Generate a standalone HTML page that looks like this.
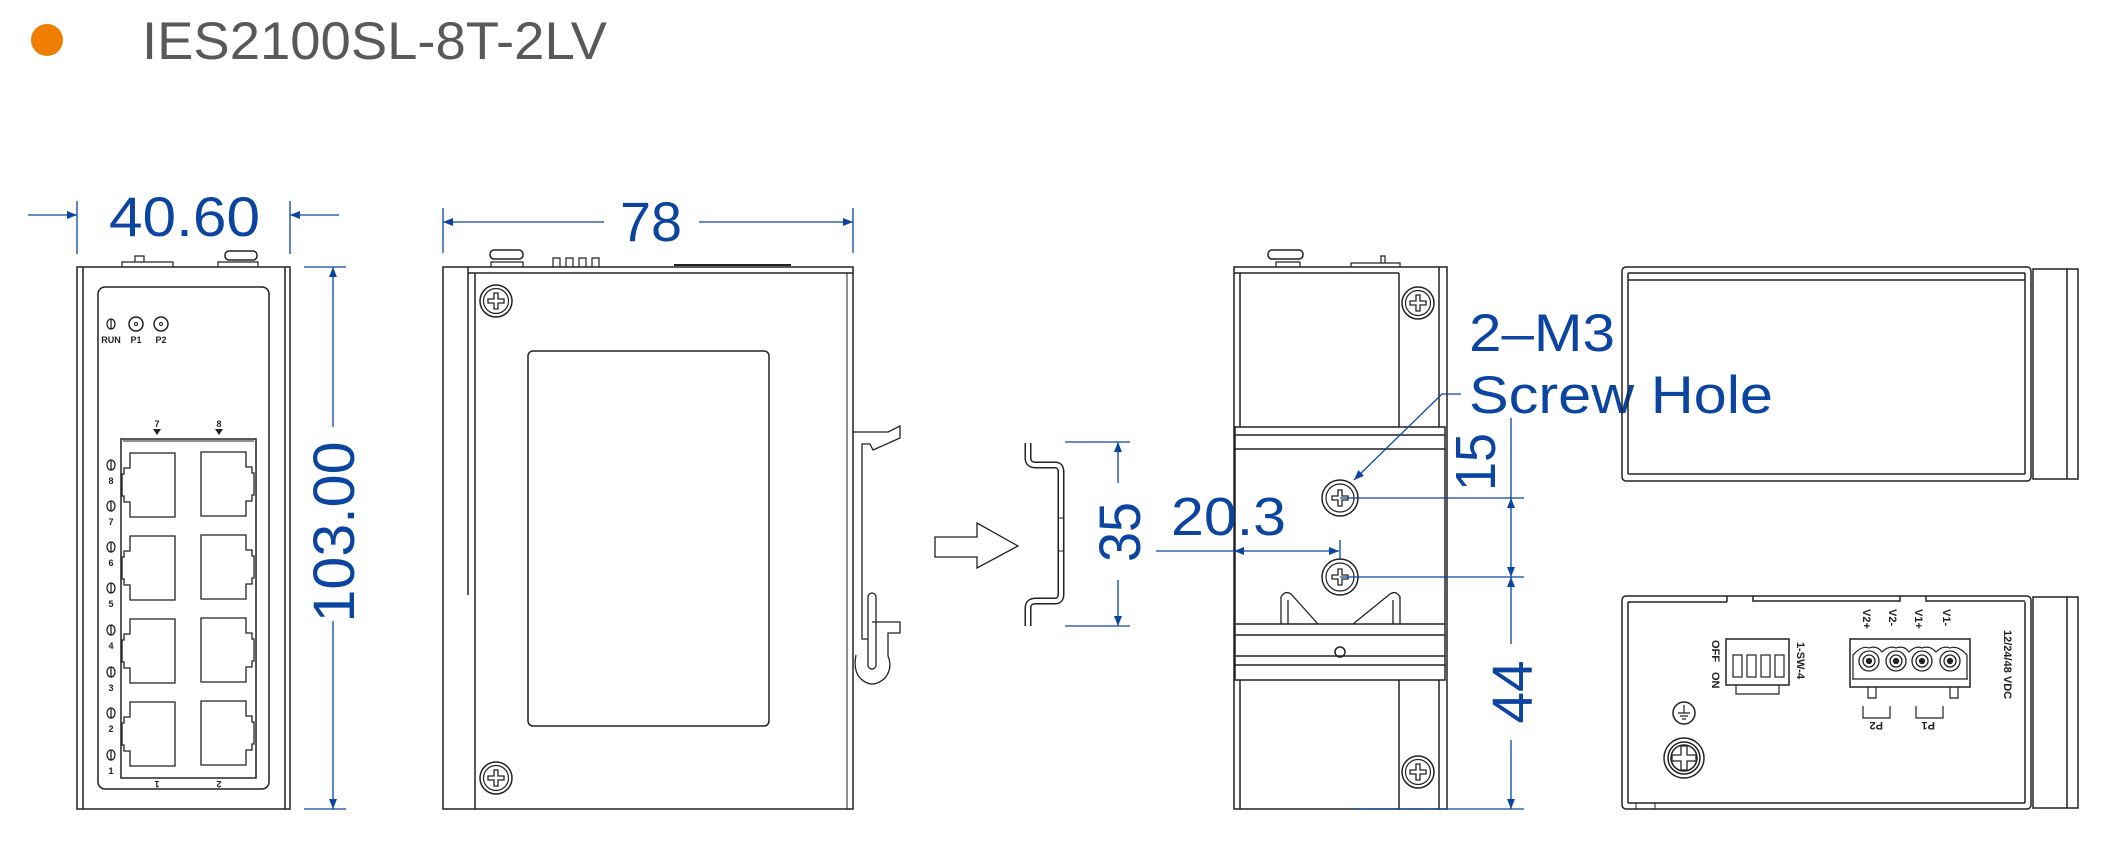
<!DOCTYPE html>
<html><head><meta charset="utf-8"><style>
html,body{margin:0;padding:0;background:#fff;}
svg{display:block;}
text{font-family:"Liberation Sans",sans-serif;}
.b{fill:#0b45a0;}
</style></head><body>
<svg width="2128" height="860" viewBox="0 0 2128 860" xmlns="http://www.w3.org/2000/svg">
<defs>
<marker id="ar" viewBox="0 0 10 10" refX="10" refY="5" markerWidth="14" markerHeight="10" markerUnits="userSpaceOnUse" orient="auto"><path d="M0,1 L10,5 L0,9 Z" fill="#0b45a0"/></marker>
<g id="scr"><circle r="16" fill="none" stroke="#222" stroke-width="1.5"/><circle r="12.5" fill="none" stroke="#222" stroke-width="1.2"/><path d="M-2,-8 H2 V-2 H8 V2 H2 V8 H-2 V2 H-8 V-2 H-2 Z" fill="none" stroke="#222" stroke-width="1.3"/></g>
<g id="hole"><circle r="18" fill="none" stroke="#222" stroke-width="1.5"/><circle r="14" fill="none" stroke="#222" stroke-width="1.2"/><path d="M-2,-8 H2 V-2 H8 V2 H2 V8 H-2 V2 H-8 V-2 H-2 Z" fill="none" stroke="#222" stroke-width="1.3"/></g>
<path id="pl" d="M8,0 H53 V64 H8 V49 H2 V43 H0 V21 H2 V15 H8 Z" fill="none" stroke="#222" stroke-width="1.3"/>
<path id="pr" d="M0,0 H45 V15 H51 V21 H53 V43 H51 V49 H45 V64 H0 Z" fill="none" stroke="#222" stroke-width="1.3"/>
<g id="led"><ellipse rx="4" ry="5" fill="none" stroke="#222" stroke-width="1.3"/><line x1="0" y1="-5" x2="0" y2="5" stroke="#222" stroke-width="1.3"/></g>
</defs>

<ellipse cx="47" cy="40" rx="16" ry="16" fill="#ef7d00"/>
<text x="142" y="59" font-size="53" fill="#595959" textLength="465" lengthAdjust="spacingAndGlyphs">IES2100SL-8T-2LV</text>

<g fill="none" stroke="#222" stroke-width="1.5">
<rect x="77" y="267" width="213" height="542"/>
<line x1="83" y1="267" x2="83" y2="809"/>
<line x1="285" y1="267" x2="285" y2="809"/>
<rect x="98" y="287" width="171" height="502" rx="7"/>
<path d="M122,267 V262 H173 V267 M135,262 V256 H144 V262" stroke-width="1.2"/>
<path d="M218,267 V262 H258 V267" stroke-width="1.2"/>
<rect x="225" y="251" width="32" height="9" rx="4"/>
<rect x="121" y="439" width="135" height="339"/>
<line x1="123" y1="441" x2="254" y2="441" stroke-width="1"/>
</g>
<use href="#led" x="111" y="324"/>
<circle cx="136" cy="324" r="7" fill="none" stroke="#222" stroke-width="1.5"/><circle cx="136" cy="324" r="1.5" fill="none" stroke="#222"/>
<circle cx="161" cy="324" r="7" fill="none" stroke="#222" stroke-width="1.5"/><circle cx="161" cy="324" r="1.5" fill="none" stroke="#222"/>
<g font-size="9" font-weight="bold" fill="#222" text-anchor="middle">
<text x="111" y="343">RUN</text><text x="136" y="343">P1</text><text x="161" y="343">P2</text>
<text x="157" y="427">7</text><text x="219" y="427">8</text>
<text x="111" y="484">8</text><text x="111" y="525">7</text><text x="111" y="566">6</text><text x="111" y="607">5</text>
<text x="111" y="649">4</text><text x="111" y="691">3</text><text x="111" y="732">2</text><text x="111" y="774">1</text>
<text x="157" y="789" transform="rotate(180 157 785)">1</text><text x="219" y="789" transform="rotate(180 219 785)">2</text>
</g>
<path d="M153,429 H161 L157,435 Z M215,429 H223 L219,435 Z" fill="#222"/>
<use href="#led" x="111" y="465"/><use href="#led" x="111" y="506"/><use href="#led" x="111" y="547"/><use href="#led" x="111" y="588"/>
<use href="#led" x="111" y="630"/><use href="#led" x="111" y="672"/><use href="#led" x="111" y="713"/><use href="#led" x="111" y="755"/>
<use href="#pl" x="122" y="453"/><use href="#pr" x="201" y="452"/>
<use href="#pl" x="122" y="536"/><use href="#pr" x="201" y="535"/>
<use href="#pl" x="122" y="619"/><use href="#pr" x="201" y="618"/>
<use href="#pl" x="122" y="702"/><use href="#pr" x="201" y="701"/>

<g stroke="#0b45a0" stroke-width="1.3" fill="none">
<line x1="77" y1="201" x2="77" y2="254"/><line x1="290" y1="201" x2="290" y2="254"/>
<line x1="28" y1="215" x2="77" y2="215" marker-end="url(#ar)"/>
<line x1="339" y1="215" x2="290" y2="215" marker-end="url(#ar)"/>
<line x1="304" y1="267" x2="346" y2="267"/><line x1="304" y1="809" x2="346" y2="809"/>
<line x1="333" y1="427" x2="333" y2="267" marker-end="url(#ar)"/>
<line x1="333" y1="621" x2="333" y2="809" marker-end="url(#ar)"/>
</g>
<text class="b" x="109" y="236" font-size="56" textLength="151" lengthAdjust="spacingAndGlyphs">40.60</text>
<text class="b" x="0" y="0" font-size="58" textLength="181" lengthAdjust="spacingAndGlyphs" text-anchor="middle" transform="translate(354 532) rotate(-90)">103.00</text>

<g fill="none" stroke="#222" stroke-width="1.5">
<rect x="443" y="267" width="410" height="542"/>
<line x1="468" y1="267" x2="468" y2="595"/>
<line x1="475" y1="273" x2="475" y2="809"/>
<line x1="468" y1="273" x2="853" y2="273"/>
<line x1="847" y1="273" x2="847" y2="809" stroke-width="1"/>
<rect x="528" y="351" width="241" height="375" rx="5"/>
<path d="M491,267 V262 H523 V267" stroke-width="1.2"/>
<rect x="490" y="250" width="33" height="9" rx="4"/>
<path d="M553,267 V258 H560 V267 M566,267 V258 H573 V267 M579,267 V258 H586 V267 M592,267 V258 H599 V267" stroke-width="1.2"/>
<line x1="674" y1="265" x2="791" y2="265" stroke-width="2"/>
<path d="M853,432 H888 L900,426 V438 L873,450 L870,444 H862 V639 H868" stroke-width="1.3"/>
<rect x="868" y="593" width="8" height="76" rx="4" stroke-width="1.3"/>
<path d="M872,622 H900 V633 H888 V656 Q893,668 885,678 Q872,690 860,678 Q853,670 856,655" stroke-width="1.3"/>
<path d="M935,537 H977 V523 L1018,546 L977,568 V557 H935 Z" stroke-width="1.3"/>
</g>
<use href="#scr" x="496" y="301"/><use href="#scr" x="496" y="778"/>
<path d="M1028,443 V458 Q1028,465 1036,465 H1055 Q1061,465 1061,472 V594 Q1061,601 1055,601 H1036 Q1028,601 1028,608 V626" fill="none" stroke="#222" stroke-width="7"/>
<path d="M1028,443 V458 Q1028,465 1036,465 H1055 Q1061,465 1061,472 V594 Q1061,601 1055,601 H1036 Q1028,601 1028,608 V626" fill="none" stroke="#fff" stroke-width="4"/>
<line x1="1059" y1="518" x2="1063" y2="518" stroke="#222"/><line x1="1059" y1="551" x2="1063" y2="551" stroke="#222"/>

<g stroke="#0b45a0" stroke-width="1.3" fill="none">
<line x1="443" y1="208" x2="443" y2="253"/><line x1="853" y1="208" x2="853" y2="253"/>
<line x1="604" y1="222" x2="443" y2="222" marker-end="url(#ar)"/>
<line x1="699" y1="222" x2="853" y2="222" marker-end="url(#ar)"/>
<line x1="1065" y1="442" x2="1130" y2="442"/><line x1="1065" y1="626" x2="1130" y2="626"/>
<line x1="1118" y1="483" x2="1118" y2="442" marker-end="url(#ar)"/>
<line x1="1118" y1="580" x2="1118" y2="626" marker-end="url(#ar)"/>
</g>
<text class="b" x="620" y="241" font-size="56" textLength="62" lengthAdjust="spacingAndGlyphs">78</text>
<text class="b" x="0" y="0" font-size="58" textLength="60" lengthAdjust="spacingAndGlyphs" text-anchor="middle" transform="translate(1140 532) rotate(-90)">35</text>

<g fill="none" stroke="#222" stroke-width="1.5">
<rect x="1234" y="267" width="213" height="542"/>
<line x1="1240" y1="273" x2="1240" y2="809"/>
<line x1="1399" y1="273" x2="1399" y2="809"/>
<line x1="1439" y1="267" x2="1439" y2="809"/>
<line x1="1234" y1="273" x2="1399" y2="273"/>
<rect x="1235" y="427" width="210" height="253" fill="#fff"/>
<line x1="1235" y1="435" x2="1445" y2="435"/><line x1="1235" y1="449" x2="1445" y2="449"/>
<line x1="1235" y1="624" x2="1445" y2="624"/><line x1="1235" y1="635" x2="1445" y2="635"/>
<line x1="1235" y1="656" x2="1445" y2="656"/><line x1="1235" y1="665" x2="1445" y2="665"/>
<path d="M1276,267 V262 H1300 V267" stroke-width="1.2"/>
<rect x="1268" y="250" width="35" height="9" rx="4"/>
<path d="M1351,267 V263 H1400 V267 M1381,263 V256 H1385 V263" stroke-width="1.2"/>
<path d="M1281,624 V597 Q1285,590 1291,594 L1318,624 M1288,624 V600 M1400,624 V597 Q1396,590 1390,594 L1353,624 M1393,624 V600" stroke-width="1.3"/>
<circle cx="1340" cy="652" r="5"/>
</g>
<use href="#scr" x="1418" y="303"/><use href="#scr" x="1418" y="772"/>
<use href="#hole" x="1340" y="498"/><use href="#hole" x="1340" y="577"/>

<g stroke="#0b45a0" stroke-width="1.3" fill="none">
<path d="M1461,394 H1442 L1354,480" marker-end="url(#ar)"/>
<line x1="1340" y1="498" x2="1524" y2="498"/><line x1="1340" y1="577" x2="1524" y2="577"/>
<line x1="1354" y1="809" x2="1524" y2="809"/>
<line x1="1511" y1="418" x2="1511" y2="498"/>
<line x1="1511" y1="538" x2="1511" y2="498" marker-end="url(#ar)"/>
<line x1="1511" y1="538" x2="1511" y2="577" marker-end="url(#ar)"/>
<line x1="1511" y1="644" x2="1511" y2="577" marker-end="url(#ar)"/>
<line x1="1511" y1="740" x2="1511" y2="809" marker-end="url(#ar)"/>
<line x1="1340" y1="540" x2="1340" y2="560"/>
<line x1="1156" y1="551" x2="1234" y2="551"/>
<line x1="1287" y1="551" x2="1234" y2="551" marker-end="url(#ar)"/>
<line x1="1287" y1="551" x2="1339" y2="551" marker-end="url(#ar)"/>
</g>
<text class="b" x="1469" y="351" font-size="53" textLength="146" lengthAdjust="spacingAndGlyphs">2–M3</text>
<text class="b" x="1469" y="413" font-size="53" textLength="304" lengthAdjust="spacingAndGlyphs">Screw Hole</text>
<text class="b" x="1171" y="535" font-size="54" textLength="115" lengthAdjust="spacingAndGlyphs">20.3</text>
<text class="b" x="0" y="0" font-size="57" textLength="58" lengthAdjust="spacingAndGlyphs" text-anchor="middle" transform="translate(1495 462) rotate(-90)">15</text>
<text class="b" x="0" y="0" font-size="57" textLength="63" lengthAdjust="spacingAndGlyphs" text-anchor="middle" transform="translate(1532 692) rotate(-90)">44</text>

<g fill="none" stroke="#222" stroke-width="1.5">
<rect x="1622" y="267" width="409" height="214" rx="4"/>
<line x1="1628" y1="273" x2="1628" y2="474"/>
<line x1="1628" y1="273" x2="2025" y2="273"/>
<line x1="1628" y1="280" x2="2025" y2="280"/>
<line x1="1628" y1="474" x2="2025" y2="474"/>
<line x1="2025" y1="273" x2="2025" y2="474"/>
<rect x="2033" y="269" width="45" height="210"/>
<line x1="2067" y1="269" x2="2067" y2="479"/>

<rect x="1622" y="596" width="409" height="213" rx="4"/>
<line x1="1628" y1="602" x2="1628" y2="803"/>
<line x1="1628" y1="803" x2="2025" y2="803"/>
<line x1="2025" y1="602" x2="2025" y2="803"/>
<line x1="1727" y1="596" x2="1727" y2="602"/>
<path d="M1753,596 V601 H1900 V596"/>
<path d="M1926,596 V601 H2025"/>
<line x1="1628" y1="602" x2="1727" y2="602"/>
<rect x="2033" y="597" width="45" height="211"/>
<line x1="2067" y1="597" x2="2067" y2="808"/>
<path d="M1636,803 V809 M1655,803 V809" stroke-width="1"/>
<rect x="1726" y="639" width="63" height="46"/>
<path d="M1736,685 V694 H1779 V685" stroke-width="1.2"/>
<rect x="1733" y="655" width="9" height="22" stroke-width="1.2"/><rect x="1747" y="655" width="9" height="22" stroke-width="1.2"/>
<rect x="1761" y="655" width="9" height="22" stroke-width="1.2"/><rect x="1775" y="655" width="9" height="22" stroke-width="1.2"/>
<rect x="1850" y="639" width="120" height="48"/>
<line x1="1852" y1="679" x2="1968" y2="679" stroke-width="1"/>
<path d="M1853,655 Q1862,645 1869,648 Q1877,645 1882,652 Q1889,645 1896,648 Q1904,645 1909,652 Q1916,645 1922,648 Q1930,645 1936,652 Q1943,645 1950,648 Q1958,645 1967,655 V679 H1853 Z" stroke-width="1.2"/>
<path d="M1868,687 V698 H1876 V687 M1950,687 V698 H1958 V687" stroke-width="1.2"/>
<path d="M1863,706 V718 H1890 V706 M1916,706 V718 H1943 V706" stroke-width="1.2"/>
<circle cx="1684" cy="713" r="11"/>
<path d="M1684,705 V713 M1678,713 H1690 M1680,716 H1688 M1682,719 H1686" stroke-width="1.2"/>
<circle cx="1684" cy="758" r="20"/><circle cx="1684" cy="758" r="16"/><circle cx="1684" cy="758" r="13"/>
<path d="M1681,746 H1687 V755 H1696 V761 H1687 V770 H1681 V761 H1672 V755 H1681 Z" stroke-width="1.3"/>
</g>
<g fill="none" stroke="#222" stroke-width="1.3">
<circle cx="1869" cy="661" r="10"/><circle cx="1869" cy="661" r="6"/><circle cx="1869" cy="661" r="2.5" fill="#222"/>
<circle cx="1896" cy="661" r="10"/><circle cx="1896" cy="661" r="6"/><circle cx="1896" cy="661" r="2.5" fill="#222"/>
<circle cx="1922" cy="661" r="10"/><circle cx="1922" cy="661" r="6"/><circle cx="1922" cy="661" r="2.5" fill="#222"/>
<circle cx="1950" cy="661" r="10"/><circle cx="1950" cy="661" r="6"/><circle cx="1950" cy="661" r="2.5" fill="#222"/>
</g>
<g font-size="11" font-weight="bold" fill="#222">
<text transform="translate(1863 609) rotate(90)">V2+</text>
<text transform="translate(1889 609) rotate(90)">V2-</text>
<text transform="translate(1915 609) rotate(90)">V1+</text>
<text transform="translate(1943 609) rotate(90)">V1-</text>
<text transform="translate(2004 630) rotate(90)">12/24/48 VDC</text>
<text transform="translate(1797 642) rotate(90)">1-SW-4</text>
<text transform="translate(1712 640) rotate(90)">OFF</text>
<text transform="translate(1712 672) rotate(90)">ON</text>
<text transform="translate(1883 722) rotate(180)">P2</text>
<text transform="translate(1935 722) rotate(180)">P1</text>
</g>
</svg>
</body></html>
